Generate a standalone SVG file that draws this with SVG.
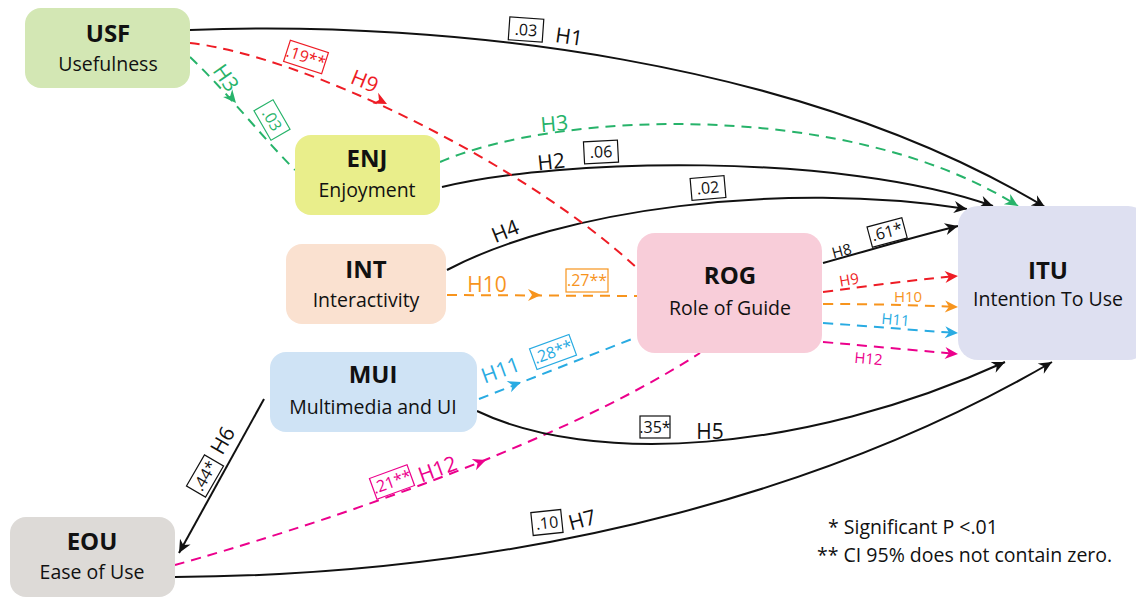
<svg xmlns="http://www.w3.org/2000/svg" width="1136" height="598" viewBox="0 0 1136 598">
<style>
.node{stroke:none}
.t{font-family:"Open Sans","Liberation Sans",sans-serif;font-weight:700;font-size:24px;fill:#111;text-anchor:middle}
.s{font-family:"Open Sans","Liberation Sans",sans-serif;font-size:19.5px;fill:#111;text-anchor:middle}
.c{fill:none;stroke-width:2}
.k{stroke:#111}
.d{stroke-dasharray:10 7}
.lab{font-family:"Open Sans","Liberation Sans",sans-serif;font-size:21px;text-anchor:middle}
.sm{font-family:"Open Sans","Liberation Sans",sans-serif;font-size:15px;text-anchor:middle}
.bx{fill:#fff;stroke-width:1.2}
.bt{font-family:"Open Sans","Liberation Sans",sans-serif;font-size:16px;text-anchor:middle}
.leg{font-family:"Open Sans","Liberation Sans",sans-serif;font-size:19.5px;fill:#111}
</style>
<defs>
<path id="ah" d="M-13,-6 L0,0 L-13,6 L-9,0 Z"/>
<marker id="mk" markerUnits="userSpaceOnUse" markerWidth="16" markerHeight="14" viewBox="-14 -7 16 14" refX="0" refY="0" orient="auto"><path d="M-13,-6 L0,0 L-13,6 L-9,0 Z" fill="#111"/></marker>
<marker id="mg" markerUnits="userSpaceOnUse" markerWidth="16" markerHeight="14" viewBox="-14 -7 16 14" refX="0" refY="0" orient="auto"><path d="M-13,-6 L0,0 L-13,6 L-9,0 Z" fill="#27b36a"/></marker>
<marker id="mr" markerUnits="userSpaceOnUse" markerWidth="16" markerHeight="14" viewBox="-14 -7 16 14" refX="0" refY="0" orient="auto"><path d="M-13,-6 L0,0 L-13,6 L-9,0 Z" fill="#ee1c25"/></marker>
<marker id="mo" markerUnits="userSpaceOnUse" markerWidth="16" markerHeight="14" viewBox="-14 -7 16 14" refX="0" refY="0" orient="auto"><path d="M-13,-6 L0,0 L-13,6 L-9,0 Z" fill="#f7941d"/></marker>
<marker id="mb" markerUnits="userSpaceOnUse" markerWidth="16" markerHeight="14" viewBox="-14 -7 16 14" refX="0" refY="0" orient="auto"><path d="M-13,-6 L0,0 L-13,6 L-9,0 Z" fill="#29abe2"/></marker>
<marker id="mp" markerUnits="userSpaceOnUse" markerWidth="16" markerHeight="14" viewBox="-14 -7 16 14" refX="0" refY="0" orient="auto"><path d="M-13,-6 L0,0 L-13,6 L-9,0 Z" fill="#ec008c"/></marker>
</defs>
<rect width="1136" height="598" fill="#fff"/>

<g id="connectors">
  <!-- H1 -->
  <path class="c k" d="M190,30 C450,20 800,60 1045,207" marker-end="url(#mk)"/>
  <!-- H2 -->
  <path class="c k" d="M442,187 C560,158 840,152 993,206" marker-end="url(#mk)"/>
  <!-- H4 -->
  <path class="c k" d="M447,270 C560,210 780,180 967,209" marker-end="url(#mk)"/>
  <!-- H3 -->
  <path class="c d" stroke="#27b36a" d="M190,57 C230,95 260,135 295,170"/>
  <path class="c d" stroke="#27b36a" d="M440,162 C560,110 850,100 1018,206" marker-end="url(#mg)"/>
  <!-- H9 -->
  <path class="c d" stroke="#ee1c25" d="M190,43 C300,55 520,160 637,268"/>
  <path class="c d" stroke="#ee1c25" d="M823,292 C870,286 910,280 958,276" marker-end="url(#mr)"/>
  <!-- H10 -->
  <path class="c d" stroke="#f7941d" d="M447,295 L637,296"/>
  <path class="c d" stroke="#f7941d" d="M823,304 C870,304 910,305 958,307" marker-end="url(#mo)"/>
  <!-- H11 -->
  <path class="c d" stroke="#29abe2" d="M479,399 L637,337"/>
  <path class="c d" stroke="#29abe2" d="M823,323 C870,326 910,330 958,333" marker-end="url(#mb)"/>
  <!-- H12 -->
  <path class="c d" stroke="#ec008c" d="M175,565 C300,530 550,450 700,353"/>
  <path class="c d" stroke="#ec008c" d="M823,342 C870,346 910,350 958,354" marker-end="url(#mp)"/>
  <!-- H8 -->
  <path class="c k" d="M823,263 C870,250 910,238 958,226" marker-end="url(#mk)"/>
  <!-- H5 -->
  <path class="c k" d="M477,411 C590,465 800,455 1005,362" marker-end="url(#mk)"/>
  <!-- H6 -->
  <path class="c k" d="M264,399 L179,553" marker-end="url(#mk)"/>
  <!-- H7 -->
  <path class="c k" d="M175,577 C550,575 850,480 1052,362" marker-end="url(#mk)"/>

  <!-- mid arrowheads -->
  <use href="#ah" fill="#27b36a" transform="translate(236,103) rotate(50)"/>
  <use href="#ah" fill="#ee1c25" transform="translate(387,104) rotate(27)"/>
  <use href="#ah" fill="#f7941d" transform="translate(541,295) rotate(0)"/>
  <use href="#ah" fill="#29abe2" transform="translate(521,382) rotate(-21)"/>
  <use href="#ah" fill="#ec008c" transform="translate(486,460) rotate(-21)"/>

  <!-- labels -->
  <g transform="translate(526,30) rotate(4)"><rect class="bx" stroke="#111" x="-17" y="-12" width="34" height="23"/><text class="bt" fill="#111" y="5.5">.03</text></g>
  <text class="lab" fill="#111" transform="translate(568,44) rotate(8)">H1</text>

  <g transform="translate(306,57) rotate(18)"><rect class="bx" stroke="#ee1c25" x="-20" y="-11" width="40" height="22"/><text class="bt" fill="#ee1c25" y="5.5">.19**</text></g>
  <text class="lab" fill="#ee1c25" transform="translate(362,88) rotate(22)">H9</text>

  <text class="lab" fill="#27b36a" transform="translate(220,82) rotate(55)">H3</text>
  <g transform="translate(272,120) rotate(60)"><rect class="bx" stroke="#27b36a" x="-17" y="-11" width="34" height="22"/><text class="bt" fill="#27b36a" y="5.5">.03</text></g>
  <text class="lab" fill="#27b36a" transform="translate(555,131) rotate(-5)">H3</text>

  <text class="lab" fill="#111" transform="translate(552,169) rotate(-6)">H2</text>
  <g transform="translate(601,152) rotate(-3)"><rect class="bx" stroke="#111" x="-17" y="-11" width="34" height="22"/><text class="bt" fill="#111" y="5.5">.06</text></g>

  <text class="lab" fill="#111" transform="translate(508,238) rotate(-22)">H4</text>
  <g transform="translate(708,188) rotate(-5)"><rect class="bx" stroke="#111" x="-17" y="-11" width="34" height="22"/><text class="bt" fill="#111" y="5.5">.02</text></g>

  <text class="lab" fill="#f7941d" transform="translate(487,292)">H10</text>
  <g transform="translate(587,280)"><rect class="bx" stroke="#f7941d" x="-21" y="-11" width="42" height="23"/><text class="bt" fill="#f7941d" y="5.5">.27**</text></g>

  <text class="lab" fill="#29abe2" transform="translate(503,377) rotate(-20)">H11</text>
  <g transform="translate(553,352) rotate(-20)"><rect class="bx" stroke="#29abe2" x="-21" y="-11" width="42" height="22"/><text class="bt" fill="#29abe2" y="5.5">.28**</text></g>

  <g transform="translate(392,482) rotate(-20)"><rect class="bx" stroke="#ec008c" x="-20" y="-11" width="40" height="22"/><text class="bt" fill="#ec008c" y="5.5">.21**</text></g>
  <text class="lab" fill="#ec008c" transform="translate(440,476) rotate(-20)">H12</text>

  <g transform="translate(205,476) rotate(-60)"><rect class="bx" stroke="#111" x="-18" y="-11" width="36" height="22"/><text class="bt" fill="#111" y="5.5">.44*</text></g>
  <text class="lab" fill="#111" transform="translate(229,444) rotate(-60)">H6</text>

  <g transform="translate(655,427)"><rect class="bx" stroke="#111" x="-15" y="-11" width="30" height="22"/><text class="bt" fill="#111" y="5.5">.35*</text></g>
  <text class="lab" fill="#111" transform="translate(710,439)">H5</text>

  <g transform="translate(547,523) rotate(-6)"><rect class="bx" stroke="#111" x="-15" y="-12" width="30" height="23"/><text class="bt" fill="#111" y="5.5">.10</text></g>
  <text class="lab" fill="#111" transform="translate(584,527) rotate(-15)">H7</text>

  <text class="sm" fill="#111" transform="translate(843,256) rotate(-15)">H8</text>
  <g transform="translate(887,232) rotate(-15)"><rect class="bx" stroke="#111" x="-18" y="-10" width="36" height="21"/><text class="bt" fill="#111" y="5.5">.61*</text></g>
  <text class="sm" fill="#ee1c25" transform="translate(850,285) rotate(-10)">H9</text>
  <text class="sm" fill="#f7941d" transform="translate(908,302)">H10</text>
  <text class="sm" fill="#29abe2" transform="translate(895,325) rotate(5)">H11</text>
  <text class="sm" fill="#ec008c" transform="translate(868,364) rotate(5)">H12</text>
</g>

<g id="USF"><rect class="node" x="25" y="8" width="165" height="80" rx="16" fill="#d3e7b4"/><text class="t" x="108" y="42">USF</text><text class="s" x="108" y="71">Usefulness</text></g>
<g id="ENJ"><rect class="node" x="295" y="135" width="145" height="80" rx="16" fill="#e9ee8b"/><text class="t" x="367" y="167">ENJ</text><text class="s" x="367" y="197">Enjoyment</text></g>
<g id="INT"><rect class="node" x="286" y="244" width="160" height="80" rx="16" fill="#fae1d0"/><text class="t" x="366" y="278">INT</text><text class="s" x="366" y="307">Interactivity</text></g>
<g id="MUI"><rect class="node" x="270" y="352" width="207" height="80" rx="16" fill="#cfe3f5"/><text class="t" x="373" y="383">MUI</text><text class="s" x="373" y="414">Multimedia and UI</text></g>
<g id="EOU"><rect class="node" x="10" y="517" width="165" height="80" rx="16" fill="#dddad7"/><text class="t" x="92" y="550">EOU</text><text class="s" x="92" y="579">Ease of Use</text></g>
<g id="ROG"><rect class="node" x="637" y="233" width="185" height="120" rx="18" fill="#f8cdd9"/><text class="t" x="730" y="284">ROG</text><text class="s" x="730" y="315">Role of Guide</text></g>
<g id="ITU"><rect class="node" x="958" y="206" width="190" height="154" rx="20" fill="#dee0f1"/><text class="t" x="1048" y="279">ITU</text><text class="s" x="1048" y="306">Intention To Use</text></g>

<g id="legend">
<text class="leg" x="828" y="534">* Significant P &lt;.01</text>
<text class="leg" x="817" y="562">** CI 95% does not contain zero.</text>
</g>
</svg>
